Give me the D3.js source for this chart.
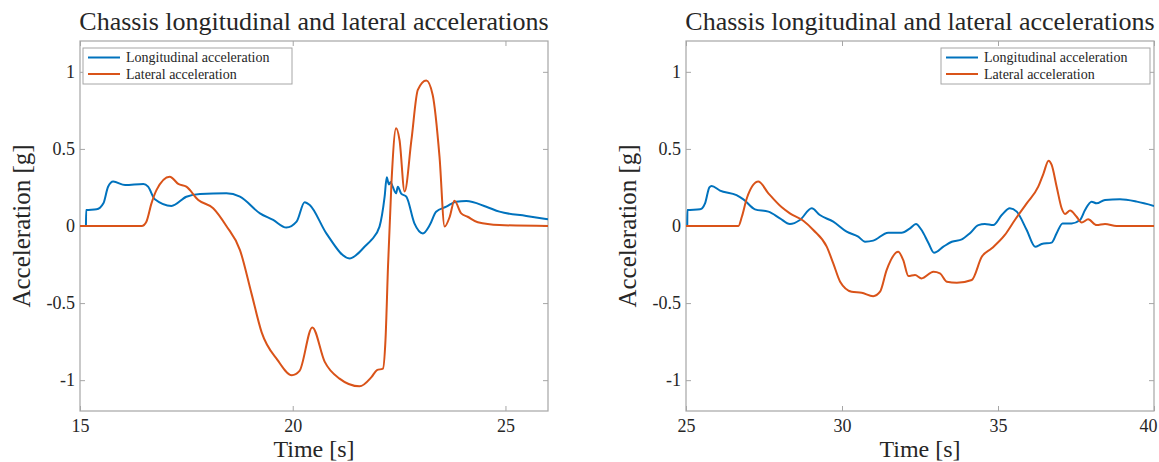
<!DOCTYPE html>
<html>
<head>
<meta charset="utf-8">
<script src="https://cdn.jsdelivr.net/npm/d3@7"></script>
<style>
  body { margin: 0; background: #fff; }
  svg text { font-family: "Liberation Serif", "DejaVu Serif", serif; fill: #262626; }
</style>
</head>
<body>
<svg id="chart" width="1159" height="462"></svg>
<script>
// Chassis accelerations, two time windows, drawn side by side.

const titleText = 'Chassis longitudinal and lateral accelerations';
const seriesNames = ['Longitudinal acceleration', 'Lateral acceleration'];
const seriesColors = ['#0072BD', '#D95319'];
const yTicks = [-1, -0.5, 0, 0.5, 1];

// left window, 15 - 26 s  ([time s, acceleration g])
const leftTicks = [15, 20, 25];
const leftLongitudinal = [
  [15.14, 0], [15.145, 0.104], [15.39, 0.108], [15.55, 0.147], [15.66, 0.255], [15.78, 0.288],
  [16.06, 0.266], [16.49, 0.273], [16.60, 0.255], [16.76, 0.173], [17.15, 0.13], [17.50, 0.19],
  [17.82, 0.208], [18.44, 0.212], [18.76, 0.19], [19.23, 0.082], [19.54, 0.039], [19.85, -0.01],
  [20.09, 0.028], [20.28, 0.154], [20.40, 0.136], [20.79, -0.048], [21.34, -0.21], [21.73, -0.123],
  [21.85, -0.09], [22.04, -0.004], [22.16, 0.19], [22.21, 0.316], [22.26, 0.27], [22.30, 0.285],
  [22.35, 0.255], [22.43, 0.212], [22.47, 0.255], [22.55, 0.21], [22.67, 0.19], [22.86, 0.017],
  [23.06, -0.048], [23.22, 0.006], [23.37, 0.093], [23.61, 0.125], [23.84, 0.158], [24.08, 0.162],
  [24.55, 0.125], [24.86, 0.093], [25.49, 0.065], [26.0, 0.043]
];
const leftLateral = [
  [15, 0], [16.45, 0], [16.56, 0.028], [16.68, 0.147], [16.80, 0.234], [17.11, 0.32], [17.31, 0.273],
  [17.50, 0.255], [17.78, 0.169], [18.13, 0.115], [18.44, 0], [18.76, -0.156], [19.03, -0.437],
  [19.27, -0.69], [19.64, -0.868], [19.98, -0.968], [20.16, -0.94], [20.46, -0.658], [20.75, -0.88],
  [21.10, -0.99], [21.57, -1.04], [21.85, -0.98], [21.98, -0.935], [22.12, -0.925], [22.18, -0.74],
  [22.24, -0.26], [22.32, 0.277], [22.43, 0.634], [22.51, 0.558], [22.63, 0.223], [22.79, 0.558],
  [22.94, 0.883], [23.14, 0.944], [23.29, 0.85], [23.45, 0.45], [23.57, -0.004], [23.69, 0.06],
  [23.80, 0.164], [23.96, 0.082], [24.11, 0.06], [24.35, 0.024], [24.86, 0.006], [26.0, 0]
];

// right window, 25 - 40 s
const rightTicks = [25, 30, 35, 40];
const rightLongitudinal = [
  [25.04, 0], [25.045, 0.104], [25.45, 0.108], [25.61, 0.147], [25.75, 0.251], [25.82, 0.26],
  [26.09, 0.23], [26.62, 0.2], [26.84, 0.173], [27.21, 0.108], [27.64, 0.093], [28.01, 0.05],
  [28.33, 0.013], [28.65, 0.039], [29.03, 0.115], [29.29, 0.071], [29.72, 0.028], [30.15, -0.037],
  [30.52, -0.069], [30.74, -0.102], [31.0, -0.095], [31.48, -0.043], [31.91, -0.043], [32.18, -0.015],
  [32.37, 0.013], [32.55, -0.026], [32.77, -0.11], [32.95, -0.173], [33.25, -0.134], [33.52, -0.102],
  [33.84, -0.087], [34.10, -0.047], [34.37, 0.006], [34.58, 0.013], [34.85, 0.006], [35.12, 0.071],
  [35.38, 0.115], [35.60, 0.093], [35.92, -0.026], [36.19, -0.134], [36.40, -0.117], [36.72, -0.108],
  [36.88, -0.047], [37.07, 0.017], [37.36, 0.017], [37.63, 0.039], [37.79, 0.104], [38.00, 0.158],
  [38.16, 0.147], [38.43, 0.169], [38.91, 0.173], [39.45, 0.158], [40.0, 0.13]
];
const rightLateral = [
  [25, 0], [26.68, 0], [26.79, 0.06], [26.95, 0.18], [27.32, 0.288], [27.64, 0.212], [28.07, 0.121],
  [28.33, 0.082], [28.76, 0.034], [29.08, -0.026], [29.51, -0.134], [29.72, -0.242], [29.94, -0.361],
  [30.31, -0.426], [30.63, -0.433], [31.0, -0.455], [31.22, -0.426], [31.43, -0.286], [31.80, -0.167],
  [31.96, -0.22], [32.13, -0.325], [32.34, -0.318], [32.55, -0.34], [32.93, -0.297], [33.14, -0.307],
  [33.36, -0.361], [33.68, -0.368], [34.16, -0.35], [34.48, -0.2], [34.80, -0.145], [35.22, -0.058],
  [35.54, 0.039], [35.92, 0.147], [36.29, 0.255], [36.46, 0.342], [36.62, 0.424], [36.72, 0.396],
  [36.88, 0.255], [37.04, 0.115], [37.15, 0.078], [37.31, 0.1], [37.52, 0.06], [37.68, 0.022],
  [37.89, 0.043], [38.16, 0.006], [38.43, 0.013], [38.80, 0], [40.0, 0]
];

const svg = d3.select('#chart');
const plotTop = 41, plotBottom = 411;
const pageWidth = 1159;

function drawPanel({ left, right, domain, ticks, series, legendRight }) {
  const x = d3.scaleLinear().domain(domain).range([left, right]);
  const y = d3.scaleLinear().domain([-1.2, 1.2]).range([plotBottom, plotTop]);
  const g = svg.append('g');
  const cx = (left + right) / 2;

  // ticks inside the box, on all four sides
  const tickLen = 5;
  const axisStyle = (sel) => {
    sel.select('.domain').remove();
    sel.attr('font-family', null);
    sel.selectAll('.tick line').attr('stroke', '#a6a6a6');
    sel.selectAll('.tick text').attr('font-size', 18).attr('fill', '#262626');
  };
  const xAxis = g.append('g').attr('transform', `translate(0,${plotBottom})`)
    .call(d3.axisBottom(x).tickValues(ticks).tickSize(-tickLen).tickPadding(8).tickFormat(d3.format('d')))
    .call(axisStyle);
  // the last label would run past the page edge: keep it inside like the original crop
  xAxis.selectAll('.tick text').each(function (d) {
    const box = this.getBBox();
    const overflow = x(d) + box.width / 2 - (pageWidth - 2);
    if (overflow > 0) d3.select(this).attr('x', -overflow);
  });
  g.append('g').attr('transform', `translate(0,${plotTop})`)
    .call(d3.axisTop(x).tickValues(ticks).tickSize(-tickLen).tickFormat(''))
    .call(axisStyle);
  g.append('g').attr('transform', `translate(${left},0)`)
    .call(d3.axisLeft(y).tickValues(yTicks).tickSize(-tickLen).tickPadding(5).tickFormat((d) => String(d)))
    .call(axisStyle);
  g.append('g').attr('transform', `translate(${right},0)`)
    .call(d3.axisRight(y).tickValues(yTicks).tickSize(-tickLen).tickFormat(''))
    .call(axisStyle);

  g.append('rect')
    .attr('x', left).attr('y', plotTop).attr('width', right - left).attr('height', plotBottom - plotTop)
    .attr('fill', 'none').attr('stroke', '#a6a6a6').attr('stroke-width', 1.2);

  const clipId = `clip-${left}`;
  g.append('clipPath').attr('id', clipId).append('rect')
    .attr('x', left).attr('y', plotTop).attr('width', right - left).attr('height', plotBottom - plotTop);

  const line = d3.line().x((d) => x(d[0])).y((d) => y(d[1])).curve(d3.curveMonotoneX);
  series.forEach((data, i) => {
    g.append('path').datum(data)
      .attr('clip-path', `url(#${clipId})`)
      .attr('d', line)
      .attr('fill', 'none')
      .attr('stroke', seriesColors[i])
      .attr('stroke-width', 2)
      .attr('stroke-linejoin', 'round');
  });

  g.append('text').attr('x', cx).attr('y', 30).attr('text-anchor', 'middle')
    .attr('font-size', 26).text(titleText);
  g.append('text').attr('x', cx).attr('y', 457).attr('text-anchor', 'middle')
    .attr('font-size', 24).text('Time [s]');
  g.append('text').attr('transform', `translate(${left - 50},${(plotTop + plotBottom) / 2}) rotate(-90)`)
    .attr('text-anchor', 'middle').attr('font-size', 25).text('Acceleration [g]');

  // legend
  const lw = 209, lh = 36;
  const lx = legendRight ? right - lw - 4 : left + 3;
  const ly = plotTop + 7;
  const lg = g.append('g').attr('transform', `translate(${lx},${ly})`);
  lg.append('rect').attr('width', lw).attr('height', lh)
    .attr('fill', '#fff').attr('stroke', '#a6a6a6').attr('stroke-width', 1);
  seriesNames.forEach((name, i) => {
    const yy = 9.5 + i * 16.5;
    lg.append('line').attr('x1', 5).attr('x2', 37).attr('y1', yy).attr('y2', yy)
      .attr('stroke', seriesColors[i]).attr('stroke-width', 2);
    lg.append('text').attr('x', 43).attr('y', yy + 4.5).attr('font-size', 14).text(name);
  });
}

drawPanel({ left: 80, right: 548, domain: [15, 26], ticks: leftTicks,
  series: [leftLongitudinal, leftLateral], legendRight: false });
drawPanel({ left: 686, right: 1154, domain: [25, 40], ticks: rightTicks,
  series: [rightLongitudinal, rightLateral], legendRight: true });
</script>
</body>
</html>
